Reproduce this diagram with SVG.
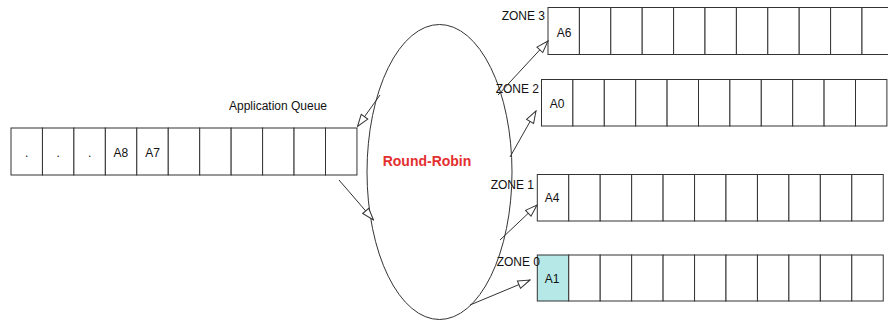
<svg xmlns="http://www.w3.org/2000/svg" width="888" height="322" viewBox="0 0 888 322">
<style>
.cell{fill:#fff;stroke:#333;stroke-width:1}
.hl{fill:#b6e8e8;stroke:#333;stroke-width:1}
.t{font-family:"Liberation Sans",Arial,sans-serif;font-size:12px;fill:#111}
.lbl{font-family:"Liberation Sans",Arial,sans-serif;font-size:12px;fill:#111}
.rr{font-family:"Liberation Sans",Arial,sans-serif;font-size:14px;font-weight:bold;fill:#e3302f}
.conn{stroke:#333;stroke-width:1;fill:none;marker-end:url(#oa)}
</style>
<defs>
<marker id="oa" markerUnits="userSpaceOnUse" markerWidth="14" markerHeight="10" refX="13" refY="5" orient="auto">
<path d="M1,1 L13,5 L1,9 Z" fill="#fff" stroke="#333" stroke-width="1"/>
</marker>
</defs>
<g id="queue">
<rect class="cell" x="11" y="128" width="31.45" height="47"/>
<rect class="cell" x="42.45" y="128" width="31.45" height="47"/>
<rect class="cell" x="73.9" y="128" width="31.45" height="47"/>
<rect class="cell" x="105.35" y="128" width="31.45" height="47"/>
<rect class="cell" x="136.8" y="128" width="31.45" height="47"/>
<rect class="cell" x="168.25" y="128" width="31.45" height="47"/>
<rect class="cell" x="199.7" y="128" width="31.45" height="47"/>
<rect class="cell" x="231.15" y="128" width="31.45" height="47"/>
<rect class="cell" x="262.6" y="128" width="31.45" height="47"/>
<rect class="cell" x="294.05" y="128" width="31.45" height="47"/>
<rect class="cell" x="325.5" y="128" width="31.45" height="47"/>
<text class="t" x="26.7" y="156.5" text-anchor="middle">.</text>
<text class="t" x="58.2" y="156.5" text-anchor="middle">.</text>
<text class="t" x="89.6" y="156.5" text-anchor="middle">.</text>
<text class="t" x="120.8" y="156.5" text-anchor="middle">A8</text>
<text class="t" x="152.6" y="156.5" text-anchor="middle">A7</text>
<text class="lbl" x="278" y="110" text-anchor="middle">Application Queue</text>
</g>
<g id="round-robin">
<ellipse cx="439.5" cy="172" rx="72.5" ry="147.5" fill="#fff" stroke="#333" stroke-width="1"/>
<text class="rr" x="427" y="166" text-anchor="middle">Round-Robin</text>
</g>
<g id="zone3">
<rect class="cell" x="548" y="7.5" width="31.4" height="47"/>
<rect class="cell" x="579.4" y="7.5" width="31.4" height="47"/>
<rect class="cell" x="610.8" y="7.5" width="31.4" height="47"/>
<rect class="cell" x="642.2" y="7.5" width="31.4" height="47"/>
<rect class="cell" x="673.6" y="7.5" width="31.4" height="47"/>
<rect class="cell" x="705" y="7.5" width="31.4" height="47"/>
<rect class="cell" x="736.4" y="7.5" width="31.4" height="47"/>
<rect class="cell" x="767.8" y="7.5" width="31.4" height="47"/>
<rect class="cell" x="799.2" y="7.5" width="31.4" height="47"/>
<rect class="cell" x="830.6" y="7.5" width="31.4" height="47"/>
<rect class="cell" x="862" y="7.5" width="31.4" height="47"/>
<text class="t" x="564" y="37" text-anchor="middle">A6</text>
<text class="lbl" x="545" y="20" text-anchor="end">ZONE 3</text>
</g>
<g id="zone2">
<rect class="cell" x="541.5" y="79.5" width="31.4" height="46.5"/>
<rect class="cell" x="572.9" y="79.5" width="31.4" height="46.5"/>
<rect class="cell" x="604.3" y="79.5" width="31.4" height="46.5"/>
<rect class="cell" x="635.7" y="79.5" width="31.4" height="46.5"/>
<rect class="cell" x="667.1" y="79.5" width="31.4" height="46.5"/>
<rect class="cell" x="698.5" y="79.5" width="31.4" height="46.5"/>
<rect class="cell" x="729.9" y="79.5" width="31.4" height="46.5"/>
<rect class="cell" x="761.3" y="79.5" width="31.4" height="46.5"/>
<rect class="cell" x="792.7" y="79.5" width="31.4" height="46.5"/>
<rect class="cell" x="824.1" y="79.5" width="31.4" height="46.5"/>
<rect class="cell" x="855.5" y="79.5" width="31.4" height="46.5"/>
<text class="t" x="557" y="108" text-anchor="middle">A0</text>
<text class="lbl" x="539" y="93" text-anchor="end">ZONE 2</text>
</g>
<g id="zone1">
<rect class="cell" x="537.3" y="174.5" width="31.45" height="46.5"/>
<rect class="cell" x="568.75" y="174.5" width="31.45" height="46.5"/>
<rect class="cell" x="600.2" y="174.5" width="31.45" height="46.5"/>
<rect class="cell" x="631.65" y="174.5" width="31.45" height="46.5"/>
<rect class="cell" x="663.1" y="174.5" width="31.45" height="46.5"/>
<rect class="cell" x="694.55" y="174.5" width="31.45" height="46.5"/>
<rect class="cell" x="726" y="174.5" width="31.45" height="46.5"/>
<rect class="cell" x="757.45" y="174.5" width="31.45" height="46.5"/>
<rect class="cell" x="788.9" y="174.5" width="31.45" height="46.5"/>
<rect class="cell" x="820.35" y="174.5" width="31.45" height="46.5"/>
<rect class="cell" x="851.8" y="174.5" width="31.45" height="46.5"/>
<text class="t" x="552" y="202" text-anchor="middle">A4</text>
<text class="lbl" x="534" y="189" text-anchor="end">ZONE 1</text>
</g>
<g id="zone0">
<rect class="hl" x="537.3" y="255" width="31.45" height="46"/>
<rect class="cell" x="568.75" y="255" width="31.45" height="46"/>
<rect class="cell" x="600.2" y="255" width="31.45" height="46"/>
<rect class="cell" x="631.65" y="255" width="31.45" height="46"/>
<rect class="cell" x="663.1" y="255" width="31.45" height="46"/>
<rect class="cell" x="694.55" y="255" width="31.45" height="46"/>
<rect class="cell" x="726" y="255" width="31.45" height="46"/>
<rect class="cell" x="757.45" y="255" width="31.45" height="46"/>
<rect class="cell" x="788.9" y="255" width="31.45" height="46"/>
<rect class="cell" x="820.35" y="255" width="31.45" height="46"/>
<rect class="cell" x="851.8" y="255" width="31.45" height="46"/>
<text class="t" x="552" y="283" text-anchor="middle">A1</text>
<text class="lbl" x="540" y="266" text-anchor="end">ZONE 0</text>
</g>
<g id="connectors">
<line class="conn" x1="380" y1="95" x2="357.5" y2="126.5"/>
<line class="conn" x1="339" y1="180" x2="373.5" y2="220"/>
<line class="conn" x1="498" y1="95" x2="548" y2="41"/>
<line class="conn" x1="510" y1="157" x2="536" y2="111"/>
<line class="conn" x1="500" y1="240" x2="537" y2="205"/>
<line class="conn" x1="470" y1="305" x2="530" y2="280"/>
</g>
</svg>
